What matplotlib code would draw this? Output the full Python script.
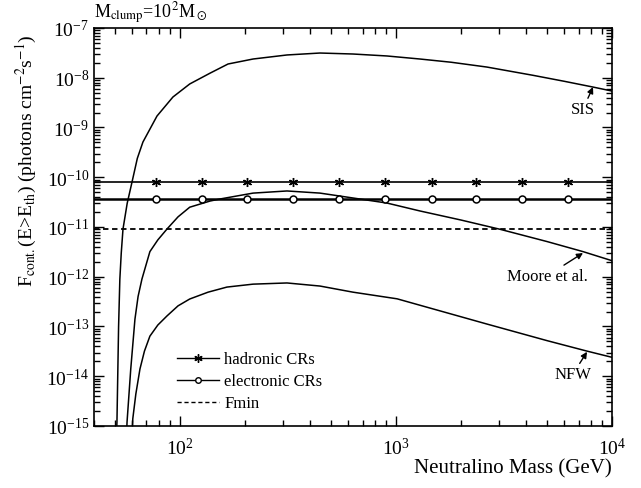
import matplotlib
matplotlib.use('Agg')
import matplotlib.pyplot as plt
from matplotlib.ticker import LogLocator, NullFormatter

plt.rcParams['font.family'] = ['Liberation Serif', 'DejaVu Serif']
plt.rcParams['mathtext.fontset'] = 'stix'

# curves (neutralino mass in GeV, flux in photons cm^-2 s^-1)
sis_mass = [50.5, 51.1, 52.0, 52.7, 53.5, 54.5, 57.0, 60.0, 63.5, 67.4, 78.3, 92.8, 111,
            138, 167, 218, 313, 445, 632, 908, 1291, 1800, 2636, 4305, 6000, 8165, 10000]
sis_flux = [3e-16, 1.2e-15, 1e-13, 8.9e-13, 3e-12, 9.1e-12, 3e-11, 8.0e-11, 2.4e-10,
            5.1e-10, 1.7e-9, 4.1e-9, 7.5e-9, 1.24e-8, 1.89e-8, 2.38e-8, 2.87e-8, 3.14e-8,
            3.0e-8, 2.74e-8, 2.38e-8, 2.05e-8, 1.64e-8, 1.12e-8, 8.5e-9, 6.5e-9, 5.4e-9]

moore_mass = [56.2, 56.9, 59.2, 61.9, 64.0, 66.7, 72.6, 79, 87.1, 98, 111, 138, 153, 218,
              313, 445, 632, 908, 1291, 2000, 3030, 5000, 7340, 10000]
moore_flux = [3e-16, 1.2e-15, 1.4e-14, 1.4e-13, 4e-13, 9e-13, 3.2e-12, 5.5e-12, 9.1e-12,
              1.6e-11, 2.5e-11, 3.33e-11, 3.65e-11, 4.8e-11, 5.3e-11, 4.8e-11, 3.83e-11,
              3.03e-11, 2.1e-11, 1.38e-11, 9.0e-12, 5.1e-12, 3.2e-12, 2.1e-12]

nfw_mass = [59.5, 60.5, 62.5, 65.3, 68.5, 72.6, 79, 87.1, 98, 111, 135, 165, 218, 313,
            445, 632, 1012, 2636, 5000, 7660, 10000]
nfw_flux = [3e-16, 1.4e-15, 4.4e-15, 1.4e-14, 3.2e-14, 6.4e-14, 1.07e-13, 1.63e-13,
            2.6e-13, 3.57e-13, 4.9e-13, 6.2e-13, 7.1e-13, 7.5e-13, 6.5e-13, 4.9e-13,
            3.6e-13, 1.12e-13, 5.2e-14, 3.2e-14, 2.4e-14]

# constant levels
hadronic = 8.0e-11
electronic = 3.65e-11
fmin = 9.1e-12
marker_mass = [77.4, 126, 204, 333, 545, 889, 1468, 2346, 3828, 6250]
x_range = [40, 10000]

fig = plt.figure(figsize=(6.41, 4.89), dpi=100)
ax = fig.add_axes([0.1466, 0.1268, 0.8082, 0.8139])

ax.plot(sis_mass, sis_flux, 'k-', lw=1.1)
ax.plot(moore_mass, moore_flux, 'k-', lw=1.1)
ax.plot(nfw_mass, nfw_flux, 'k-', lw=1.1)

ax.plot(x_range, [hadronic] * 2, 'k-', lw=1.2)
ax.plot(x_range, [electronic] * 2, 'k-', lw=1.8)
ax.plot(x_range, [fmin] * 2, 'k--', lw=1.3, dashes=(3, 2))
ax.plot(marker_mass, [hadronic] * len(marker_mass), 'k', ls='none',
        marker=(6, 2, 0), ms=6.5, mew=1.0)
ax.plot(marker_mass, [electronic] * len(marker_mass), ls='none', marker='o',
        ms=5, mfc='white', mec='k', mew=1.1)

# legend entries
ax.plot([], [], 'k-', lw=1, marker=(6, 2, 0), ms=6, mew=1.0, label='hadronic CRs')
ax.plot([], [], 'k-', lw=1, marker='o', ms=4, mfc='white', label='electronic CRs')
ax.plot([], [], 'k--', lw=1, dashes=(3, 2), label='Fmin')
ax.legend(loc='upper left', bbox_to_anchor=(0.132, 0.225), frameon=False,
          fontsize=12, handlelength=2.5, handletextpad=0.3, labelspacing=0.36)

ax.set_xscale('log')
ax.set_yscale('log')
ax.set_xlim(x_range)
ax.set_ylim(1e-15, 1e-7)
ax.yaxis.set_major_locator(LogLocator(base=10, numticks=20))
ax.yaxis.set_minor_locator(LogLocator(base=10, subs=range(2, 10), numticks=20))
ax.yaxis.set_minor_formatter(NullFormatter())
ax.xaxis.set_minor_formatter(NullFormatter())
ax.tick_params(which='both', direction='in', top=True, right=True, labelsize=14)
ax.tick_params(which='major', length=7, width=1)
ax.tick_params(which='minor', length=4, width=1)
ax.tick_params(axis='x', which='major', pad=8)
for s in ax.spines.values():
    s.set_linewidth(1.2)

ax.set_xlabel('Neutralino Mass (GeV)', fontsize=15, loc='right', labelpad=0)
ax.set_ylabel(r'F$_{\rm cont.}$(E>E$_{\rm th}$) (photons cm$^{-2}$s$^{-1}$)',
              fontsize=14)
ax.yaxis.set_label_coords(-0.106, 0.67)
ax.text(0.0, 1.008, r'M$_{\rm clump}$=10$^2$M$_\odot$', transform=ax.transAxes,
        fontsize=13, ha='left', va='bottom')

arrow = dict(arrowstyle='-|>', color='k', lw=1, mutation_scale=9, shrinkA=0, shrinkB=0)
ax.annotate('SIS', xy=(8165, 6.5e-9), xytext=(7340, 2.35e-9), fontsize=12,
            ha='center', va='center', arrowprops=arrow)
ax.annotate('Moore et al.', xy=(7340, 3.0e-12), xytext=(5000, 1.04e-12), fontsize=12,
            ha='center', va='center', arrowprops=arrow)
ax.annotate('NFW', xy=(7660, 3.1e-14), xytext=(6590, 1.1e-14), fontsize=12,
            ha='center', va='center', arrowprops=arrow)

fig.savefig('out.png', dpi=100)
